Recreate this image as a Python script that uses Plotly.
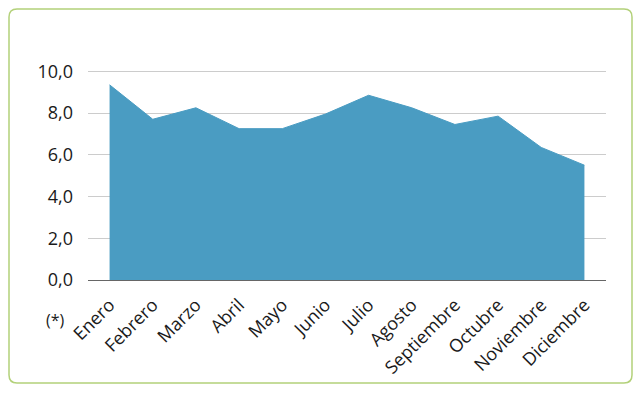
import plotly.graph_objects as go

months = ["Enero", "Febrero", "Marzo", "Abril", "Mayo", "Junio", "Julio",
          "Agosto", "Septiembre", "Octubre", "Noviembre", "Diciembre"]
values = [9.35, 7.7, 8.25, 7.25, 7.25, 7.95, 8.85, 8.25, 7.45, 7.85, 6.35, 5.5]
y_ticks = [0, 2, 4, 6, 8, 10]

W, H = 640, 396
L, R, T, B = 88, 34, 65, 116
pw, ph = W - L - R, H - T - B

def px(x):
    return (x - L) / pw

def py(y):
    return (H - B - y) / ph

fig = go.Figure()
fig.add_trace(go.Scatter(
    x=list(range(len(months))), y=values, mode="lines",
    fill="tozeroy", fillcolor="#4a9cc2",
    line=dict(color="#4a9cc2", width=1),
    hoverinfo="skip", showlegend=False,
))

# rounded border frame
x0, x1, y0, y1, r = 9, 632, 9, 383, 8
path = (f"M {px(x0+r)},{py(y0)} L {px(x1-r)},{py(y0)} "
        f"Q {px(x1)},{py(y0)} {px(x1)},{py(y0+r)} "
        f"L {px(x1)},{py(y1-r)} Q {px(x1)},{py(y1)} {px(x1-r)},{py(y1)} "
        f"L {px(x0+r)},{py(y1)} Q {px(x0)},{py(y1)} {px(x0)},{py(y1-r)} "
        f"L {px(x0)},{py(y0+r)} Q {px(x0)},{py(y0)} {px(x0+r)},{py(y0)} Z")

fig.update_layout(
    width=W, height=H,
    margin=dict(l=L, r=R, t=T, b=B, autoexpand=False),
    paper_bgcolor="white", plot_bgcolor="white",
    separators=",.",
    font=dict(family="Open Sans, sans-serif", size=15, color="#1a1a1a"),
    xaxis=dict(
        tickmode="array", tickvals=list(range(len(months))), ticktext=months,
        range=[-0.5, len(months) - 0.5], tickangle=-45,
        showgrid=False, zeroline=False, showline=False, ticks="",
        tickfont=dict(size=18), ticklabelstandoff=10, automargin=False,
    ),
    yaxis=dict(
        range=[0, 10.3], tickvals=y_ticks, tickformat=".1f",
        showgrid=True, gridcolor="#cccccc", gridwidth=1,
        zeroline=True, zerolinecolor="#666666", zerolinewidth=1,
        showline=False, ticks="", ticklabelstandoff=14,
        tickfont=dict(size=18), automargin=False,
    ),
    shapes=[dict(type="path", xref="paper", yref="paper", path=path,
                 line=dict(color="#b3d17a", width=1.5), layer="below")],
    annotations=[dict(text="(*)", xref="paper", yref="paper",
                      x=px(55), y=py(320), showarrow=False,
                      xanchor="center", yanchor="middle",
                      font=dict(size=16, color="#1a1a1a"))],
)

fig.write_html("out.html", post_script="document.body.style.margin='0';",
               config={"displayModeBar": False})
